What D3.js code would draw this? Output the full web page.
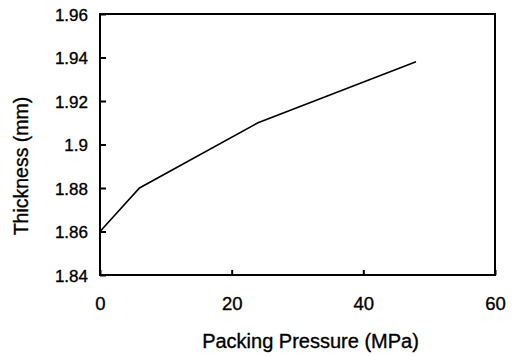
<!DOCTYPE html>
<html>
<head>
<meta charset="utf-8">
<script src="https://cdn.jsdelivr.net/npm/d3@7"></script>
<style>
  html, body { margin: 0; padding: 0; background: #fff; }
  svg { display: block; }
  text { font-family: "Liberation Sans", Arial, Helvetica, sans-serif; fill: #000; stroke: #000; stroke-width: 0.35px; }
</style>
</head>
<body>
<svg id="chart" width="517" height="356"></svg>
<script>
// Packing pressure (MPa) against part thickness (mm)
const pressure = [0, 6, 24, 48];
const thickness = [1.86, 1.88, 1.91, 1.938];
const xTicks = [0, 20, 40, 60];
const yTicks = [1.84, 1.86, 1.88, 1.9, 1.92, 1.94, 1.96];
const xTitle = "Packing Pressure (MPa)";
const yTitle = "Thickness (mm)";

const W = 517, H = 356;
const margin = { top: 14, right: 22, bottom: 81, left: 100 };
const iw = W - margin.left - margin.right;
const ih = H - margin.top - margin.bottom;

const svg = d3.select("#chart");
const g = svg.append("g").attr("transform", `translate(${margin.left},${margin.top})`);

const x = d3.scaleLinear().domain([0, 60]).range([0, iw]);
const y = d3.scaleLinear().domain([1.84, 1.96]).range([ih, 0]);

// axes with inward ticks
const xAxis = g.append("g")
  .attr("transform", `translate(0,${ih})`)
  .call(d3.axisBottom(x).tickValues(xTicks).tickFormat(d3.format("d"))
    .tickSizeInner(-5).tickSizeOuter(0).tickPadding(22));
const yAxis = g.append("g")
  .call(d3.axisLeft(y).tickValues(yTicks).tickFormat(d => String(+d.toFixed(2)))
    .tickSizeInner(-6).tickSizeOuter(0).tickPadding(12));

[xAxis, yAxis].forEach(a => {
  a.select(".domain").remove();
  a.selectAll("line").attr("stroke", "#000").attr("stroke-width", 2);
  a.selectAll("text").attr("font-size", 18.5).attr("fill", "#000");
});
yAxis.selectAll("text").attr("font-size", 17).attr("dy", "0.36em");

// plot frame
g.append("rect")
  .attr("x", 0).attr("y", 0).attr("width", iw).attr("height", ih)
  .attr("fill", "none").attr("stroke", "#000").attr("stroke-width", 2);

// data line
const line = d3.line().x((d, i) => x(pressure[i])).y(d => y(d));
g.append("path")
  .datum(thickness)
  .attr("d", line)
  .attr("fill", "none")
  .attr("stroke", "#000")
  .attr("stroke-width", 1.6);

// axis titles
svg.append("text")
  .attr("x", margin.left + iw / 2 + 13)
  .attr("y", 348)
  .attr("text-anchor", "middle")
  .attr("font-size", 20)
  .text(xTitle);

svg.append("text")
  .attr("transform", `translate(28,${margin.top + 152}) rotate(-90)`)
  .attr("text-anchor", "middle")
  .attr("font-size", 19.5)
  .text(yTitle);
</script>
</body>
</html>
